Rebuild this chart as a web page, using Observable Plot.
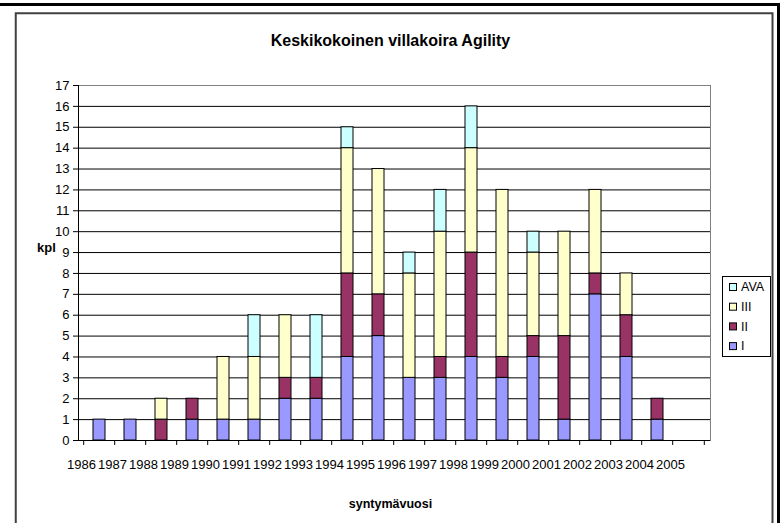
<!DOCTYPE html>
<html><head><meta charset="utf-8">
<script src="https://cdn.jsdelivr.net/npm/d3@7"></script>
<script src="https://cdn.jsdelivr.net/npm/@observablehq/plot@0.6"></script>
<style>body{margin:0;background:#fff}</style>
</head><body><div id="chart"></div>
<script>
const years = ["1986","1987","1988","1989","1990","1991","1992","1993","1994","1995","1996","1997","1998","1999","2000","2001","2002","2003","2004","2005"];
const seriesNames = ["I","II","III","AVA"];
const seriesColors = ["#9999FF","#993366","#FFFFCC","#CCFFFF"];
const valuesI   = [1,1,0,1,1,1,2,2,4,5,3,3,4,3,4,1,7,4,1,0];
const valuesII  = [0,0,1,1,0,0,1,1,4,2,0,1,5,1,1,4,1,2,1,0];
const valuesIII = [0,0,1,0,3,3,3,0,6,6,5,6,5,8,4,5,4,2,0,0];
const valuesAVA = [0,0,0,0,0,2,0,3,1,0,1,2,2,0,1,0,0,0,0,0];
const yTicks = [0,1,2,3,4,5,6,7,8,9,10,11,12,13,14,15,16,17];
const titleText = "Keskikokoinen villakoira Agility";
const yLabel = "kpl";
const xLabel = "syntymävuosi";

const seriesValues = [valuesI, valuesII, valuesIII, valuesAVA];
const rows = [];
seriesNames.forEach((s, i) => years.forEach((y, j) => {
  if (seriesValues[i][j] > 0) rows.push({year: y, series: s, value: seriesValues[i][j]});
}));

const font = "'Liberation Sans', Arial, sans-serif";
const chart = Plot.plot({
  width: 780, height: 523,
  marginLeft: 78, marginRight: 70, marginTop: 85, marginBottom: 83,
  style: {fontFamily: font, fontSize: "13px", background: "#fff", color: "#000"},
  x: {type: "band", domain: years, paddingInner: 0.6, paddingOuter: 0.3, align: 0.5, label: null},
  y: {domain: [0, 17], label: null},
  color: {domain: seriesNames, range: seriesColors},
  marks: [
    Plot.gridY(yTicks.slice(1), {stroke: "#000", strokeOpacity: 1}),
    Plot.frame({stroke: "#808080"}),
    Plot.barY(rows, {x: "year", y: "value", fill: "series", stroke: "#000", strokeWidth: 1}),
    Plot.axisY(yTicks, {tickSize: 5, tickPadding: 4, fontSize: 13, label: null}),
    Plot.axisX({tickSize: 0, tickPadding: 19, dx: -18, fontSize: 13, label: null}),
    Plot.axisX({tickSize: 5, tickFormat: () => "", dx: -15.8, label: null}),
    Plot.ruleX([years[years.length - 1]], {dx: 15.8, y1: 0, y2: -0.24, stroke: "#000"}),
    Plot.ruleY([0], {stroke: "#000"}),
    Plot.frame({anchor: "left", stroke: "#000"}),
    Plot.text([titleText], {frameAnchor: "top", lineAnchor: "middle", textAnchor: "middle", dy: -45, dx: -4, fontWeight: "bold", fontSize: 16}),
    Plot.text([yLabel], {frameAnchor: "left", lineAnchor: "middle", textAnchor: "middle", dx: -32, dy: -15, fontWeight: "bold", fontSize: 13}),
    Plot.text([xLabel], {frameAnchor: "bottom", lineAnchor: "middle", textAnchor: "middle", dy: 63, dx: -4, fontWeight: "bold", fontSize: 12.5})
  ]
});
document.getElementById("chart").appendChild(chart);

const svg = d3.select(chart);
// chart area border (inner) and outer frame
svg.append("path").attr("d", "M15.75,523V13.2H772.5V523").attr("fill", "none").attr("stroke", "#404040").attr("stroke-width", 2);
svg.append("rect").attr("x", 0).attr("y", 3).attr("width", 780).attr("height", 3).attr("fill", "#000");
svg.append("rect").attr("x", 777).attr("y", 3).attr("width", 3).attr("height", 520).attr("fill", "#000");

// legend
const lg = svg.append("g").attr("font-family", font).attr("font-size", 12.5).attr("text-anchor", "start");
lg.append("rect").attr("x", 722.5).attr("y", 276.5).attr("width", 48).attr("height", 80).attr("fill", "#fff").attr("stroke", "#000");
const legendOrder = seriesNames.map((s, i) => ({name: s, color: seriesColors[i]})).reverse();
legendOrder.forEach((d, i) => {
  const cy = 287 + i * 19.7;
  lg.append("rect").attr("x", 729.5).attr("y", cy - 3.5).attr("width", 7).attr("height", 7).attr("fill", d.color).attr("stroke", "#000");
  lg.append("text").attr("x", 741).attr("y", cy).attr("dy", "0.35em").text(d.name);
});
</script>
</body></html>
